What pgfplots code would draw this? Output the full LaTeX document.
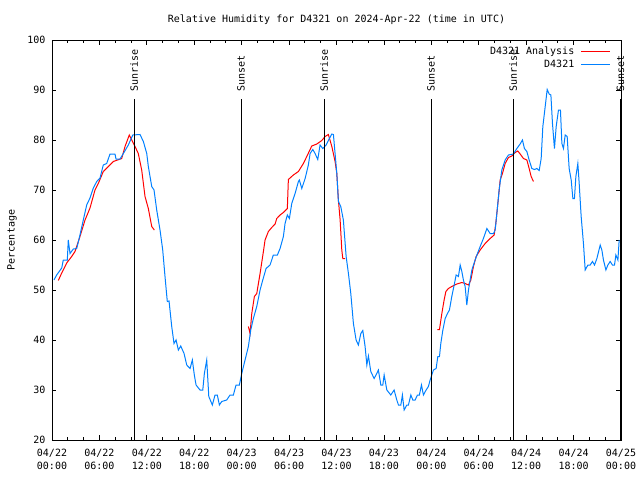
\documentclass[border=0pt]{standalone}
\usepackage{fontspec}
\setmainfont{DejaVu Sans Mono}
\usepackage{pgfplots}
\pgfplotsset{compat=1.18}
\definecolor{rhred}{RGB}{255,0,0}
\definecolor{rhblue}{RGB}{0,128,255}

\begin{document}
\begin{tikzpicture}[font=\fontsize{10bp}{13bp}\selectfont]
\useasboundingbox (-52bp,-40bp) rectangle (588bp,440bp);
\begin{axis}[
    scale only axis,
    width=569bp, height=400bp,
    xmin=0, xmax=72, ymin=20, ymax=100,
    xtick={0,6,...,72},
    minor x tick num=2,
    xticklabels={{04/22\\00:00},{04/22\\06:00},{04/22\\12:00},{04/22\\18:00},
                 {04/23\\00:00},{04/23\\06:00},{04/23\\12:00},{04/23\\18:00},
                 {04/24\\00:00},{04/24\\06:00},{04/24\\12:00},{04/24\\18:00},
                 {04/25\\00:00}},
    xticklabel style={align=center, yshift=-6bp},
    ytick={20,30,...,100},
    yticklabel style={xshift=-3bp},
    /pgf/number format/assume math mode=true,
    tick align=inside, tick pos=both,
    major tick length=4.5bp, minor tick length=2.5bp,
    every tick/.style={black, line width=0.8bp},
    axis line style={black, line width=0.8bp},
    title={Relative Humidity for D4321 on 2024-Apr-22 (time in UTC)},
    title style={at={(0.5,1)}, anchor=base, yshift=12bp},
    ylabel={Percentage},
    ylabel style={at={(axis description cs:-0.0703,0.5)}, anchor=center},
    legend style={at={(1,1)}, anchor=north east, xshift=-10bp, yshift=-5bp,
                  draw=none, fill=none, row sep=1bp, column sep=5bp, inner sep=0pt,
                  nodes={inner sep=1.5bp}},
    legend cell align=right,
    legend plot pos=right,
    legend image code/.code={\draw[#1] (0bp,0bp) -- (29bp,0bp);},
    clip=false,
]
% analysis, three pieces
\addplot[rhred, line width=1bp] coordinates {
(0.80,51.9) (1.23,53.4) (1.86,55.4) (2.49,56.7) (2.91,57.7) (3.54,60.7)
(4.18,64) (4.81,66.4) (5.44,70) (5.86,71.3) (6.49,73.7) (7.13,74.7)
(7.76,75.7) (8.82,76.3) (9.24,78.7) (9.78,81) (10.09,80) (10.51,78.7)
(10.92,77.3) (11.35,74) (11.77,68.7) (12.19,66.3) (12.62,62.7) (12.95,62)
};
\addlegendentry{D4321 Analysis}
\addplot[rhred, line width=1bp, forget plot] coordinates {
(24.85,42.7) (25.06,41.3) (25.28,45.3) (25.61,48.7) (25.91,49.3) (26.33,53.3)
(26.75,57.7) (26.96,60) (27.38,61.7) (27.81,62.5) (28.23,63.2) (28.44,64.3)
(28.86,65) (29.28,65.5) (29.78,66.3) (29.91,72.1) (30.54,73) (31.18,73.7)
(31.81,75.3) (32.24,76.7) (32.87,78.8) (33.51,79.2) (34.14,79.9) (34.56,80.7)
(34.97,81.1) (35.41,78.7) (35.82,75.7) (36.04,73.3) (36.24,68) (36.46,64)
(36.67,58) (36.80,56.3) (37.09,56.3)
};
\addplot[rhred, line width=1bp, forget plot] coordinates {
(48.77,42.1) (49.03,42.1) (49.33,45.3) (49.62,48) (49.84,49.7) (50.16,50.3)
(50.59,50.7) (51.23,51.2) (51.86,51.5) (52.28,51.3) (52.70,51) (53.00,52)
(53.33,54.7) (53.67,56.7) (54.18,58) (54.81,59.3) (55.44,60.3) (55.95,61)
(56.16,63.3) (56.42,67.3) (56.71,72) (57.00,73.3) (57.34,75.3) (57.76,76.5)
(58.19,76.8) (58.61,77.5) (58.94,77.8) (59.24,77.2) (59.66,76.3) (60.09,76)
(60.38,74.3) (60.63,72.7) (60.92,71.7)
};
% observations
\addplot[rhblue, line width=1bp] coordinates {
(0.25,52) (0.59,53) (1.23,54.4) (1.43,56) (1.94,56) (2.06,60) (2.28,57.3)
(2.70,58.2) (3.13,58.3) (3.54,61) (3.96,64) (4.39,67) (4.81,68.4) (5.23,70.4)
(5.66,71.7) (6.08,72.4) (6.49,75) (6.92,75.3) (7.34,77.2) (7.97,77.2)
(8.10,76.2) (8.61,76.2) (9.03,77.3) (9.66,79) (10.22,81) (11.14,81.1)
(11.56,79.7) (11.99,77.3) (12.19,74.7) (12.62,70.7) (12.91,70) (13.25,66)
(13.67,62) (14.01,58) (14.30,52.7) (14.59,47.7) (14.81,47.8) (15.15,42.7)
(15.44,39.3) (15.70,40) (15.99,38) (16.29,38.8) (16.71,37.3) (17.05,35)
(17.47,34.3) (17.76,36) (18.01,33) (18.23,31) (18.73,30) (19.08,30)
(19.28,33.3) (19.58,36) (19.84,28.7) (20.29,27) (20.63,29) (20.92,29)
(21.18,27) (21.48,27.7) (22.11,28) (22.53,29) (22.95,29) (23.29,31)
(23.71,31) (24.01,33.3) (24.43,36) (24.85,38.7) (25.15,42) (25.48,44.3)
(25.91,46.7) (26.33,50) (26.67,52) (27.09,54.3) (27.59,55) (28.01,57)
(28.52,57) (28.86,58.3) (29.28,60.7) (29.49,63.3) (29.78,65) (30.04,64.3)
(30.34,67.3) (30.76,69.3) (31.18,71.7) (31.30,72) (31.61,70.3) (32.03,72.3)
(32.44,75) (32.66,77.3) (33.00,78.1) (33.29,77.3) (33.63,76.1) (33.92,79)
(34.27,78.3) (34.68,79) (35.10,80.3) (35.41,81.2) (35.61,81.1) (35.82,77.3)
(36.04,73.3) (36.24,67.7) (36.54,66.7) (36.87,64) (37.22,56.7) (37.51,53.3)
(37.81,49.3) (38.14,43.3) (38.48,40) (38.77,39) (39.08,41.3) (39.33,41.9)
(39.62,38.7) (39.84,35) (40.04,36.8) (40.34,33.7) (40.76,32.3) (41.10,33.3)
(41.30,34) (41.61,31) (41.86,31) (42.03,33) (42.37,30) (42.87,29) (43.29,30)
(43.63,28) (43.84,27) (44.14,27) (44.34,29) (44.56,26) (44.90,27) (45.10,27)
(45.41,29) (45.66,28) (45.95,28) (46.24,29) (46.49,29) (46.75,31) (47.00,29)
(47.34,30) (47.63,30.7) (47.85,32) (48.06,33) (48.27,34) (48.61,34.3)
(48.82,36.7) (49.03,36.7) (49.20,39.3) (49.46,42) (49.75,44.3) (50.04,45.3)
(50.29,46) (50.59,48.7) (50.89,51) (51.14,53) (51.43,52.7) (51.65,55)
(51.86,53.7) (52.06,52) (52.28,50.7) (52.49,47) (52.70,50) (52.91,52)
(53.13,54) (53.54,56) (53.84,57.3) (54.18,58.7) (54.59,60.3) (55.03,62.3)
(55.44,61.3) (55.86,61.3) (56.08,62) (56.29,65.3) (56.58,70) (56.92,74)
(57.34,76) (57.76,77) (58.39,77.2) (58.82,78.3) (59.24,79.2) (59.53,80)
(59.78,78.3) (60.09,77.7) (60.38,76) (60.72,74.3) (61.05,74.1) (61.35,74.3)
(61.65,73.9) (61.90,76.3) (62.11,82.7) (62.41,86.7) (62.66,90.1) (62.91,89.2)
(63.13,89) (63.33,83.3) (63.58,78.3) (63.80,82.7) (64.09,86) (64.34,86)
(64.52,79.3) (64.72,78.3) (64.94,81) (65.19,80.7) (65.44,74.3) (65.70,72)
(65.91,68.3) (66.11,68.3) (66.29,72.7) (66.54,75.3) (66.71,71.3) (66.96,64.7)
(67.25,59.3) (67.47,54) (67.81,55) (68.10,55) (68.39,55.7) (68.65,55)
(68.95,56.3) (69.37,59) (69.58,58) (69.78,56) (70.09,54) (70.34,55)
(70.63,55.7) (70.92,55) (71.18,55) (71.35,57) (71.61,56) (71.77,60)
};
\addlegendentry{D4321}
% sunrise and sunset markers
\draw[black, line width=1bp] (axis cs:10.38,20) -- (axis cs:10.38,88.2);
\node[rotate=90, anchor=west, inner sep=0pt] at (axis cs:10.38,89.6) {Sunrise};
\draw[black, line width=1bp] (axis cs:23.92,20) -- (axis cs:23.92,88.2);
\node[rotate=90, anchor=west, inner sep=0pt] at (axis cs:23.92,89.6) {Sunset};
\draw[black, line width=1bp] (axis cs:34.43,20) -- (axis cs:34.43,88.2);
\node[rotate=90, anchor=west, inner sep=0pt] at (axis cs:34.43,89.6) {Sunrise};
\draw[black, line width=1bp] (axis cs:47.97,20) -- (axis cs:47.97,88.2);
\node[rotate=90, anchor=west, inner sep=0pt] at (axis cs:47.97,89.6) {Sunset};
\draw[black, line width=1bp] (axis cs:58.35,20) -- (axis cs:58.35,88.2);
\node[rotate=90, anchor=west, inner sep=0pt] at (axis cs:58.35,89.6) {Sunrise};
\draw[black, line width=1bp] (axis cs:71.95,20) -- (axis cs:71.95,88.2);
\node[rotate=90, anchor=west, inner sep=0pt] at (axis cs:71.95,89.6) {Sunset};
\end{axis}
\end{tikzpicture}
\end{document}
